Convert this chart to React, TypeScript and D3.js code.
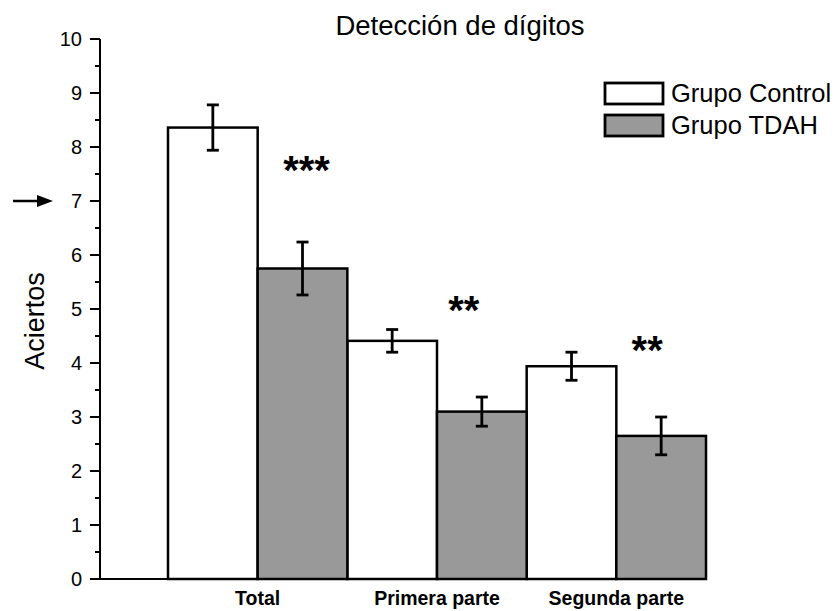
import React from "react";
import * as d3 from "d3";

const categories = ["Total", "Primera parte", "Segunda parte"];
const groups = ["Grupo Control", "Grupo TDAH"];
const controlMeans = [8.36, 4.41, 3.94];
const controlErr = [0.42, 0.21, 0.26];
const tdahMeans = [5.75, 3.1, 2.65];
const tdahErr = [0.49, 0.27, 0.35];
const significance = ["***", "**", "**"];
const sigY = [7.32, 4.73, 3.99];
const yTicks = [0, 1, 2, 3, 4, 5, 6, 7, 8, 9, 10];
const groupColors = ["#ffffff", "#999999"];

export default function App() {
  const W = 838, H = 611;
  const x0 = d3.scaleBand<string>().domain(categories).range([168, 706]).paddingInner(0).paddingOuter(0);
  const x1 = d3.scaleBand<string>().domain(groups).range([0, x0.bandwidth()]).padding(0);
  const y = d3.scaleLinear().domain([0, 10]).range([579, 39]);
  const minor = d3.range(0.5, 10, 1);
  const axisX = 100;
  const font = "Arial, 'Liberation Sans', Helvetica, sans-serif";
  const sigDx = [4, -18, -14];
  const series = [
    { name: groups[0], means: controlMeans, errs: controlErr, color: groupColors[0] },
    { name: groups[1], means: tdahMeans, errs: tdahErr, color: groupColors[1] },
  ];
  return (
    <svg width={W} height={H} style={{ position: "absolute", left: 0, top: 0, background: "#fff" }} fontFamily={font}>
      <text x={460} y={35} fontSize={27.5} textAnchor="middle">Detección de dígitos</text>
      {/* bars */}
      {series.map((s) =>
        categories.map((c, i) => {
          const bx = (x0(c) ?? 0) + (x1(s.name) ?? 0);
          const bw = x1.bandwidth();
          const top = y(s.means[i]);
          return (
            <rect key={s.name + c} x={bx} y={top} width={bw} height={y(0) - top}
              fill={s.color} stroke="#000" strokeWidth={2.5} />
          );
        })
      )}
      {/* error bars */}
      {series.map((s) =>
        categories.map((c, i) => {
          const cx = (x0(c) ?? 0) + (x1(s.name) ?? 0) + x1.bandwidth() / 2;
          const hi = y(s.means[i] + s.errs[i]);
          const lo = y(s.means[i] - s.errs[i]);
          return (
            <g key={"e" + s.name + c} stroke="#000" strokeWidth={2.8}>
              <line x1={cx} x2={cx} y1={hi} y2={lo} />
              <line x1={cx - 6} x2={cx + 6} y1={hi} y2={hi} />
              <line x1={cx - 6} x2={cx + 6} y1={lo} y2={lo} />
            </g>
          );
        })
      )}
      {/* significance */}
      {categories.map((c, i) => {
        const cx = (x0(c) ?? 0) + (x1(groups[1]) ?? 0) + x1.bandwidth() / 2 + sigDx[i];
        return (
          <text key={"s" + c} x={cx} y={y(sigY[i])} fontSize={40} fontWeight="bold" textAnchor="middle">
            {significance[i]}
          </text>
        );
      })}
      {/* y axis */}
      <line x1={axisX} x2={axisX} y1={y(10)} y2={y(0)} stroke="#000" strokeWidth={2} />
      {yTicks.map((t) => (
        <g key={"t" + t}>
          <line x1={axisX - 10} x2={axisX} y1={y(t)} y2={y(t)} stroke="#000" strokeWidth={2} />
          <text x={82} y={y(t) + 7} fontSize={20} textAnchor="end">{t}</text>
        </g>
      ))}
      {minor.map((t) => (
        <line key={"m" + t} x1={axisX - 5} x2={axisX} y1={y(t)} y2={y(t)} stroke="#000" strokeWidth={2} />
      ))}
      {/* x axis */}
      <line x1={axisX - 1} x2={707} y1={y(0)} y2={y(0)} stroke="#000" strokeWidth={2} />
      {categories.map((c) => (
        <text key={"x" + c} x={(x0(c) ?? 0) + x0.bandwidth() / 2} y={605} fontSize={19.5} fontWeight="bold" textAnchor="middle">
          {c}
        </text>
      ))}
      <text transform={`translate(44,321) rotate(-90)`} fontSize={27} textAnchor="middle">Aciertos</text>
      {/* arrow */}
      <line x1={13} x2={40} y1={y(7)} y2={y(7)} stroke="#000" strokeWidth={2.5} />
      <path d={`M37,${y(7) - 6} L53,${y(7)} L37,${y(7) + 6} Z`} fill="#000" />
      {/* legend */}
      {series.map((s, i) => (
        <g key={"l" + s.name}>
          <rect x={605} y={83 + i * 32} width={58} height={21} fill={s.color} stroke="#000" strokeWidth={2.8} />
          <text x={671} y={102 + i * 32} fontSize={25.5}>{s.name}</text>
        </g>
      ))}
    </svg>
  );
}
